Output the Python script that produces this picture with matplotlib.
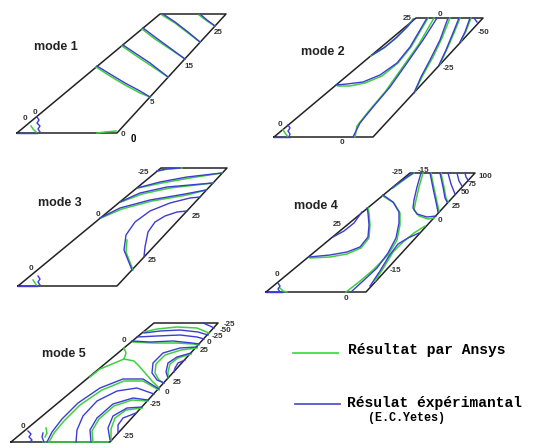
import matplotlib.pyplot as plt

GREEN = '#3fcf3f'
BLUE = '#3c3cd2'

# plate outlines, in pixels of the 536x448 picture
plate1 = [(17, 133), (117, 133), (226, 14), (160, 14)]
plate2 = [(274, 137), (373, 137), (483, 18), (416, 18)]
plate3 = [(18, 286), (117, 286), (227, 168), (161, 168)]
plate4 = [(266, 292), (366, 292), (475, 173), (410, 173)]
plate5 = [(11, 442), (110, 442), (218, 323), (154, 323)]

mode_names = ['mode 1', 'mode 2', 'mode 3', 'mode 4', 'mode 5']
mode_pos = [(56, 47), (323, 52), (60, 203), (316, 206), (64, 354)]

# mode 1 contours
m1_blue = [
    [(97, 66), (110, 74), (125, 83), (140, 91), (150, 97)],
    [(123, 45), (135, 53), (150, 63), (168, 77)],
    [(143, 28), (155, 37), (170, 48), (185, 59)],
    [(163, 14), (175, 22), (188, 32), (200, 42)],
    [(200, 14), (207, 20), (215, 26)],
    [(37, 117), (39, 120), (37, 123), (40, 126), (38, 129), (40, 132)],
    [(17, 133), (37, 133)],
]
m1_green = [
    [(96, 67), (110, 76), (125, 85), (140, 93), (150, 97)],
    [(122, 46), (135, 55), (150, 65), (168, 77)],
    [(142, 29), (155, 39), (170, 49), (185, 59)],
    [(162, 15), (175, 23), (188, 33), (200, 42)],
    [(199, 15), (207, 21), (215, 26)],
    [(31, 126), (33, 129), (35, 131), (37, 133)],
    [(97, 133), (105, 132), (116, 131)],
]
m1_labels = [('25', 218, 32), ('15', 189, 67), ('5', 152, 102), ('0', 123, 134),
             ('0', 25, 119), ('0', 35, 113)]

# mode 2 contours
m2_blue = [
    [(372, 55), (385, 47), (397, 37), (408, 26), (414, 19)],
    [(336, 85), (347, 84), (363, 82), (380, 75), (397, 63), (410, 47), (420, 30), (427, 18)],
    [(353, 137), (360, 123), (373, 107), (390, 87), (407, 63), (423, 40), (437, 18)],
    [(414, 93), (421, 77), (430, 60), (440, 40), (448, 18)],
    [(439, 65), (446, 50), (453, 33), (459, 18)],
    [(460, 42), (465, 32), (470, 18)],
    [(474, 18), (477, 22)],
    [(288, 125), (290, 128), (288, 131), (290, 134), (289, 137)],
    [(274, 137), (290, 137)],
]
m2_green = [
    [(371, 56), (384, 48), (396, 38), (407, 27), (413, 19)],
    [(338, 86), (350, 86), (365, 83), (382, 76), (398, 63), (411, 47), (421, 30), (428, 18)],
    [(355, 137), (357, 126), (368, 112), (385, 92), (402, 68), (419, 44), (434, 18)],
    [(415, 91), (423, 75), (433, 57), (442, 38), (450, 18)],
    [(440, 64), (447, 49), (454, 33), (460, 18)],
    [(461, 41), (466, 31), (471, 18)],
    [(283, 130), (285, 133), (288, 137)],
]
m2_labels = [('25', 407, 19), ('0', 440, 14), ('-50', 484, 32), ('-25', 448, 69),
             ('0', 280, 124), ('0', 342, 143)]

# mode 3 contours
m3_blue = [
    [(157, 171), (166, 169), (180, 168)],
    [(137, 188), (160, 182), (187, 177), (222, 173)],
    [(120, 202), (140, 193), (167, 187), (213, 183)],
    [(100, 218), (120, 208), (150, 200), (185, 194), (206, 190)],
    [(132, 270), (124, 250), (126, 235), (135, 222), (150, 211), (170, 203), (190, 198), (200, 197)],
    [(144, 257), (145, 247), (148, 232), (155, 222), (165, 216), (177, 212), (187, 211)],
    [(38, 276), (40, 279), (38, 282), (40, 285)],
    [(18, 286), (37, 286)],
]
m3_green = [
    [(158, 171), (168, 169), (182, 168)],
    [(138, 188), (162, 183), (190, 178), (222, 173)],
    [(121, 202), (142, 194), (170, 188), (213, 183)],
    [(101, 218), (122, 209), (152, 201), (187, 195), (206, 190)],
    [(133, 270), (126, 252), (127, 240)],
    [(33, 280), (35, 283), (37, 286)],
]
m3_labels = [('-25', 143, 172), ('0', 98, 215), ('25', 196, 216), ('25', 152, 261),
             ('0', 31, 268)]

# mode 4 contours
m4_blue = [
    [(392, 188), (400, 182), (407, 177), (413, 173)],
    [(383, 195), (393, 202), (399, 212), (399, 223), (396, 238), (388, 253), (377, 268), (363, 281), (351, 292)],
    [(370, 286), (380, 271), (389, 256), (398, 244), (408, 238), (419, 233)],
    [(421, 173), (417, 187), (414, 200), (413, 208), (417, 214), (427, 217), (436, 216)],
    [(430, 173), (433, 188), (436, 202), (438, 212)],
    [(440, 173), (443, 187), (445, 198), (447, 202)],
    [(448, 173), (451, 184), (455, 194)],
    [(457, 173), (459, 181), (462, 186)],
    [(465, 173), (466, 177), (468, 180)],
    [(309, 257), (330, 255), (347, 252), (360, 247), (368, 237), (369, 225), (368, 213), (367, 208)],
    [(333, 237), (344, 231), (354, 223), (362, 212)],
    [(278, 283), (280, 286), (278, 289), (280, 292)],
    [(266, 292), (282, 292)],
]
m4_green = [
    [(393, 188), (401, 182), (408, 177), (414, 173)],
    [(383, 196), (394, 203), (400, 213), (400, 225), (397, 240), (388, 255), (373, 270), (359, 282), (346, 292)],
    [(375, 281), (384, 267), (393, 252), (403, 242), (414, 233), (425, 226)],
    [(423, 173), (419, 187), (416, 200), (414, 210), (419, 216), (428, 219), (434, 218)],
    [(431, 173), (434, 188), (437, 202), (439, 211)],
    [(441, 173), (444, 187), (446, 198), (448, 202)],
    [(310, 258), (330, 257), (347, 254), (361, 248), (369, 238), (370, 225), (369, 213), (368, 208)],
    [(280, 288), (283, 291), (287, 292)],
]
m4_labels = [('-25', 397, 173), ('-15', 423, 170), ('100', 485, 176), ('75', 472, 184),
             ('50', 465, 193), ('25', 456, 206), ('0', 440, 220), ('25', 337, 225),
             ('-15', 395, 270), ('0', 277, 274), ('0', 346, 299)]

# mode 5 contours
m5_blue = [
    [(203, 323), (210, 326), (214, 328)],
    [(144, 333), (160, 331), (180, 330), (198, 332), (208, 335)],
    [(137, 337), (157, 336), (180, 335), (197, 337), (204, 339)],
    [(132, 341), (150, 342), (173, 341), (192, 343), (199, 344)],
    [(197, 347), (180, 348), (163, 353), (153, 363), (152, 373), (157, 380), (164, 383)],
    [(191, 353), (177, 357), (168, 363), (166, 372), (168, 378)],
    [(185, 360), (178, 363), (175, 368), (174, 372)],
    [(159, 389), (143, 379), (123, 379), (100, 388), (78, 403), (62, 419), (52, 432), (47, 442)],
    [(154, 394), (137, 388), (117, 391), (97, 401), (83, 416), (77, 430), (76, 442)],
    [(148, 400), (133, 398), (113, 404), (97, 418), (90, 430), (91, 442)],
    [(142, 407), (127, 408), (113, 416), (108, 428), (110, 440)],
    [(136, 413), (123, 418), (118, 425), (118, 433)],
    [(28, 431), (31, 434), (29, 437), (32, 440), (30, 442)],
    [(43, 433), (42, 437), (44, 442)],
]
m5_green = [
    [(90, 377), (100, 369), (117, 362), (124, 359), (126, 353), (124, 348)],
    [(124, 359), (134, 361), (139, 366), (146, 374), (152, 381), (159, 388)],
    [(144, 332), (157, 329), (177, 327), (197, 328), (209, 333)],
    [(133, 342), (153, 343), (177, 343), (193, 344), (199, 345)],
    [(197, 348), (181, 350), (165, 355), (156, 364), (155, 373), (159, 380), (164, 383)],
    [(191, 354), (178, 358), (170, 364), (168, 372), (168, 378)],
    [(159, 390), (143, 381), (124, 381), (102, 390), (80, 405), (64, 421), (54, 433), (49, 442)],
    [(148, 401), (132, 400), (114, 406), (99, 419), (92, 431), (93, 442)],
    [(142, 408), (126, 410), (115, 418), (111, 429), (111, 440)],
    [(43, 442), (108, 442)],
    [(46, 428), (47, 433), (45, 437)],
]
m5_labels = [('-25', 229, 324), ('-50', 226, 331), ('-25', 217, 337), ('0', 209, 343),
             ('25', 204, 351), ('0', 124, 340), ('25', 177, 382), ('0', 167, 392),
             ('-25', 155, 405), ('-25', 128, 437), ('0', 23, 426)]

plates = [plate1, plate2, plate3, plate4, plate5]
blues = [m1_blue, m2_blue, m3_blue, m4_blue, m5_blue]
greens = [m1_green, m2_green, m3_green, m4_green, m5_green]
labels = [m1_labels, m2_labels, m3_labels, m4_labels, m5_labels]

fig = plt.figure(figsize=(5.36, 4.48), dpi=100)
ax = fig.add_axes([0, 0, 1, 1])
ax.set_xlim(0, 536)
ax.set_ylim(448, 0)
ax.axis('off')

for i in range(5):
    xs = [p[0] for p in plates[i]] + [plates[i][0][0]]
    ys = [p[1] for p in plates[i]] + [plates[i][0][1]]
    ax.plot(xs, ys, color='#222222', lw=1.1, zorder=3)
    for line in greens[i]:
        ax.plot([p[0] for p in line], [p[1] for p in line], color=GREEN, lw=1.1,
                solid_joinstyle='round', zorder=4)
    for line in blues[i]:
        ax.plot([p[0] for p in line], [p[1] for p in line], color=BLUE, lw=1.0,
                solid_joinstyle='round', zorder=5)
    for t, x, y in labels[i]:
        ax.text(x, y, t, fontsize=5.8, fontweight='bold', color='#333333',
                family='Liberation Sans', ha='center', va='center', zorder=6)
    ax.text(mode_pos[i][0], mode_pos[i][1], mode_names[i], fontsize=9, fontweight='bold',
            family='Liberation Sans', color='#222222', ha='center', va='center')

ax.text(133, 139, '0', fontsize=7, fontweight='bold', family='Liberation Sans',
        ha='center', va='center')

# legend
ax.plot([293, 338], [353, 353], color='#44dd44', lw=1.3)
ax.plot([295, 340], [404, 404], color='#5555cc', lw=1.3)
ax.text(348, 350, 'Résultat par Ansys', fontsize=10.5, fontweight='bold',
        family='Liberation Mono', ha='left', va='center')
ax.text(347, 403, 'Résulat éxpérimantal', fontsize=10.5, fontweight='bold',
        family='Liberation Mono', ha='left', va='center')
ax.text(407, 418, '(E.C.Yetes)', fontsize=8.5, fontweight='bold',
        family='Liberation Mono', ha='center', va='center')

fig.savefig('out.png', dpi=100, facecolor='white')
